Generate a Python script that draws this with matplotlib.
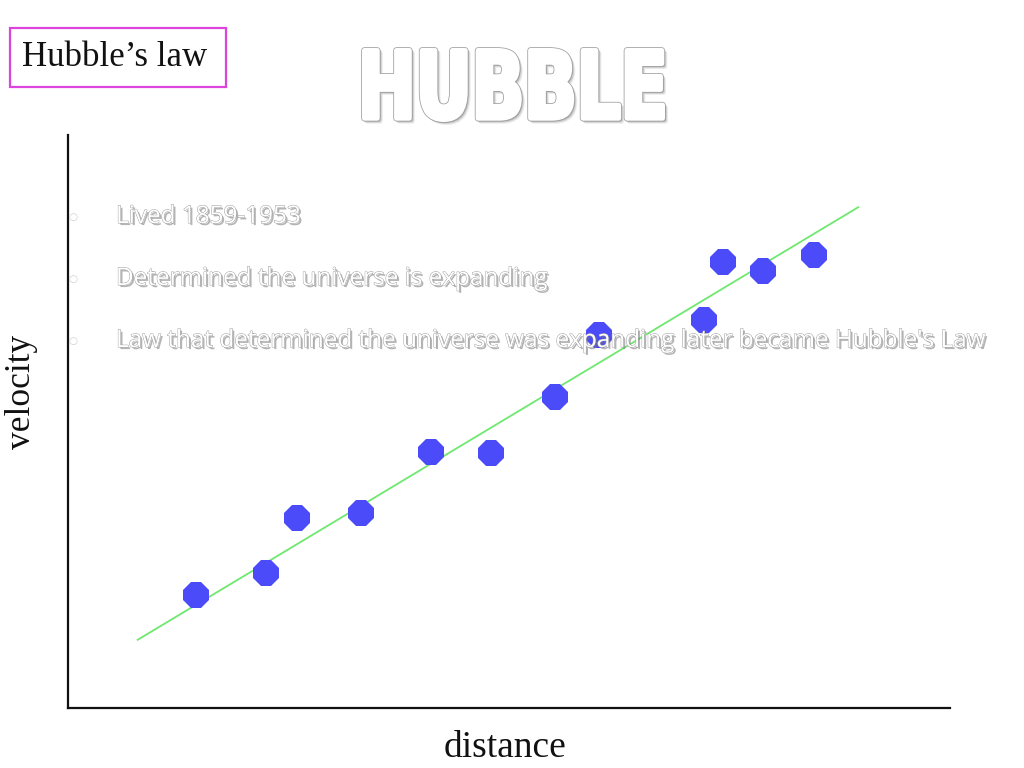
import matplotlib
matplotlib.use("Agg")
import matplotlib.pyplot as plt
import matplotlib.patheffects as pe
from matplotlib.patches import Rectangle, PathPatch
from matplotlib.path import Path
from matplotlib.textpath import TextPath
from matplotlib.font_manager import FontProperties
from matplotlib.transforms import Affine2D

# Galaxy measurements (arbitrary units)
distance = [14.5, 22.4, 26.0, 33.2, 41.2, 48.0, 55.2, 60.2, 72.1, 74.3, 78.8, 84.6]
velocity = [19.7, 23.6, 33.2, 34.0, 44.7, 44.5, 54.3, 65.1, 67.7, 77.8, 76.3, 79.1]

# Best-fit line end points
fit_x = [7.9, 89.6]
fit_y = [11.9, 87.4]

bullets = [
    "Lived 1859-1953",
    "Determined the universe is expanding",
    "Law that determined the universe was expanding later became Hubble's Law",
]

W, H = 1024, 768
fig = plt.figure(figsize=(W / 100, H / 100), dpi=100)
fig.patch.set_facecolor("white")


def fx(px):
    return px / W


def fy(py):
    return 1 - py / H


ax = fig.add_axes([fx(68), fy(708), fx(950) - fx(68), fy(135) - fy(708)])
ax.set_xlim(0, 100)
ax.set_ylim(0, 100)
for side in ("top", "right"):
    ax.spines[side].set_visible(False)
for side in ("left", "bottom"):
    ax.spines[side].set_linewidth(1.6)
    ax.spines[side].set_color("#111111")
ax.set_xticks([])
ax.set_yticks([])
ax.patch.set_alpha(0)

ax.plot(fit_x, fit_y, color="#6fe86f", lw=1.3, zorder=2)
ax.plot(distance, velocity, linestyle="none", marker="8", markersize=19.5,
        color="#4b4bfa", markeredgewidth=0, zorder=3)

# Axis labels
fig.text(fx(505), fy(748), "distance", family="Liberation Serif",
         fontsize=27, ha="center", va="center", color="#111111")
fig.text(fx(22), fy(392), "velocity", family="Liberation Serif",
         fontsize=25.5, ha="center", va="center", rotation=90, color="#111111")

# Boxed caption in the top-left corner
fig.add_artist(Rectangle((fx(10), fy(87)), fx(226) - fx(10), fy(28) - fy(87),
                         transform=fig.transFigure, fill=False,
                         edgecolor="#dd44dd", linewidth=1.6))
fig.text(fx(115), fy(58), "Hubble\u2019s law", family="Liberation Serif",
         fontsize=25, ha="center", va="center", color="#111111")

# Slide title: compressed bold letters, thickened by a wide white edge,
# with a thin grey outline and a soft shadow
tp = TextPath((0, 0), "HUBBLE", size=100,
              prop=FontProperties(family="DejaVu Sans", weight="bold"))
pts = tp.vertices[tp.codes != Path.CLOSEPOLY]
gx0, gy0 = pts.min(axis=0)
gx1, gy1 = pts.max(axis=0)
grow = 2.4  # pixels added around each letter by the white edge
x0, x1, y0, y1 = 362 + grow, 665 - grow, 48 + grow, 122 - grow
to_px = (Affine2D().translate(-gx0, -gy0)
         .scale((x1 - x0) / (gx1 - gx0), (y1 - y0) / (gy1 - gy0))
         .translate(x0, H - y1))
glyphs = to_px.transform_path(tp)
px_to_fig = Affine2D().scale(1 / W, 1 / H) + fig.transFigure
pt = 72 / 100  # points per pixel
for off, a in ((3.0, 0.15), (2.0, 0.25), (1.0, 0.35)):
    fig.add_artist(PathPatch(glyphs, transform=Affine2D().translate(off, -off) + px_to_fig,
                             facecolor="#808080", edgecolor="#808080",
                             linewidth=2 * grow * pt, joinstyle="round", alpha=a))
fig.add_artist(PathPatch(glyphs, transform=px_to_fig, facecolor="#a0a0a0",
                         edgecolor="#a0a0a0", linewidth=(2 * grow + 1.6) * pt,
                         joinstyle="round"))
fig.add_artist(PathPatch(glyphs, transform=px_to_fig, facecolor="white",
                         edgecolor="white", linewidth=2 * grow * pt,
                         joinstyle="round"))

# Bullet list drawn over the chart
text_fx = [pe.SimplePatchShadow(offset=(1.5, -1.5), shadow_rgbFace="#777777", alpha=0.55),
           pe.Stroke(linewidth=0.7, foreground="#a0a0a0"), pe.Normal()]
for i, line in enumerate(bullets):
    y = 217 + i * 62
    fig.text(fx(73), fy(y), "\u25cb", family="DejaVu Sans", fontsize=7.5,
             ha="center", va="center", color="#cfcfcf")
    fig.text(fx(116), fy(y), line, family="Open Sans", fontsize=17.5,
             ha="left", va="center", color="white", path_effects=text_fx)

fig.savefig("out.png", dpi=100)
